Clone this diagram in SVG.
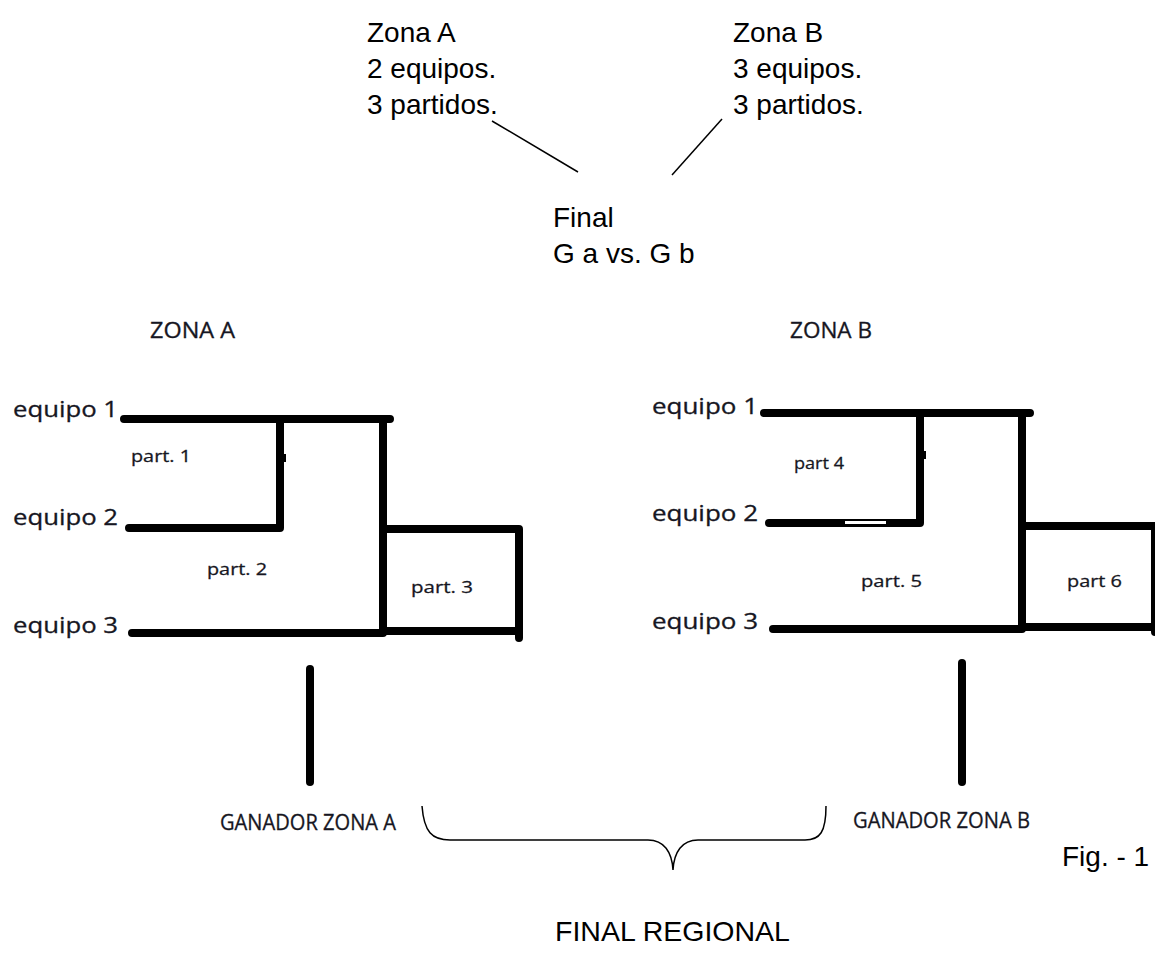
<svg xmlns="http://www.w3.org/2000/svg" width="1155" height="969" viewBox="0 0 1155 969">
<style>
.arial{font-family:"Liberation Sans",Arial,sans-serif;fill:#000;font-size:28px}
.cal{font-family:"Open Sans","DejaVu Sans",sans-serif;fill:#161622;stroke:#161622;stroke-width:0.3}
.eq{font-size:21px}
.pt{font-size:17px}
.zn{font-size:21px}
.thick{stroke:#000;stroke-width:8;fill:none;stroke-linecap:round}
.thin{stroke:#000;stroke-width:1.5;fill:none}
</style>
<rect width="1155" height="969" fill="#fff"/>
<g id="top-zona-a"><text class="arial" x="367" y="42">Zona A</text><text class="arial" x="367" y="78">2 equipos.</text><text class="arial" x="367" y="114">3 partidos.</text></g>
<g id="top-zona-b"><text class="arial" x="733" y="42">Zona B</text><text class="arial" x="733" y="78">3 equipos.</text><text class="arial" x="733" y="114">3 partidos.</text></g>
<g id="top-final"><text class="arial" x="553" y="227">Final</text><text class="arial" x="553" y="263">G a vs. G b</text></g>
<g id="connectors">
<path class="thin" d="M492 121 L578 172"/>
<path class="thin" d="M722 119 L672 175"/>
<path class="thin" d="M422 806 C424 832 432 840 450 840 L648 840 C664 840 672 852 673 870 C674 852 682 840 698 840 L805 840 C820 840 826 832 826 806"/>
</g>
<g id="zona-a">
<text class="cal zn" x="150" y="338" textLength="85" lengthAdjust="spacingAndGlyphs">ZONA A</text>
<text class="cal eq" x="13" y="417" textLength="105" lengthAdjust="spacingAndGlyphs">equipo 1</text>
<text class="cal eq" x="13" y="525" textLength="105" lengthAdjust="spacingAndGlyphs">equipo 2</text>
<text class="cal eq" x="13" y="633" textLength="105" lengthAdjust="spacingAndGlyphs">equipo 3</text>
<text class="cal pt" x="131" y="462" textLength="60" lengthAdjust="spacingAndGlyphs">part. 1</text>
<text class="cal pt" x="207" y="575" textLength="60" lengthAdjust="spacingAndGlyphs">part. 2</text>
<text class="cal pt" x="411" y="593" textLength="62" lengthAdjust="spacingAndGlyphs">part. 3</text>
<path class="thick" d="M124 419 H390 M280 419 V528 M129 528 H280 M383 419 V632 M383 529 H519 M519 529 V638 M383 631 H519 M132 633 H383"/>
<rect x="280" y="454" width="6" height="8" fill="#000"/>
<path class="thick" d="M310 669 V782"/>
<text class="cal" x="220" y="830" font-size="21" textLength="176" lengthAdjust="spacingAndGlyphs">GANADOR ZONA A</text>
</g>
<g id="zona-b">
<text class="cal zn" x="790" y="338" textLength="82" lengthAdjust="spacingAndGlyphs">ZONA B</text>
<text class="cal eq" x="652" y="414" textLength="106" lengthAdjust="spacingAndGlyphs">equipo 1</text>
<text class="cal eq" x="652" y="521" textLength="106" lengthAdjust="spacingAndGlyphs">equipo 2</text>
<text class="cal eq" x="652" y="629" textLength="106" lengthAdjust="spacingAndGlyphs">equipo 3</text>
<text class="cal pt" x="794" y="469" textLength="50" lengthAdjust="spacingAndGlyphs">part 4</text>
<text class="cal pt" x="861" y="587" textLength="61" lengthAdjust="spacingAndGlyphs">part. 5</text>
<text class="cal pt" x="1067" y="587" textLength="55" lengthAdjust="spacingAndGlyphs">part 6</text>
<path class="thick" d="M764 413 H1030 M920 413 V523 M769 523 H920 M1022 413 V628 M1022 526 H1165 M1155 526 V632 M1022 627 H1165 M773 629 H1022"/>
<rect x="920" y="451" width="6" height="8" fill="#000"/>
<rect x="845" y="521" width="41" height="3" fill="#fff"/>
<path class="thick" d="M962 663 V782"/>
<text class="cal" x="853" y="828" font-size="21" textLength="177" lengthAdjust="spacingAndGlyphs">GANADOR ZONA B</text>
</g>
<g id="labels">
<text class="arial" x="1062" y="866">Fig. - 1</text>
<text class="arial" x="555" y="941" style="font-size:28.5px">FINAL REGIONAL</text>
</g>
</svg>
